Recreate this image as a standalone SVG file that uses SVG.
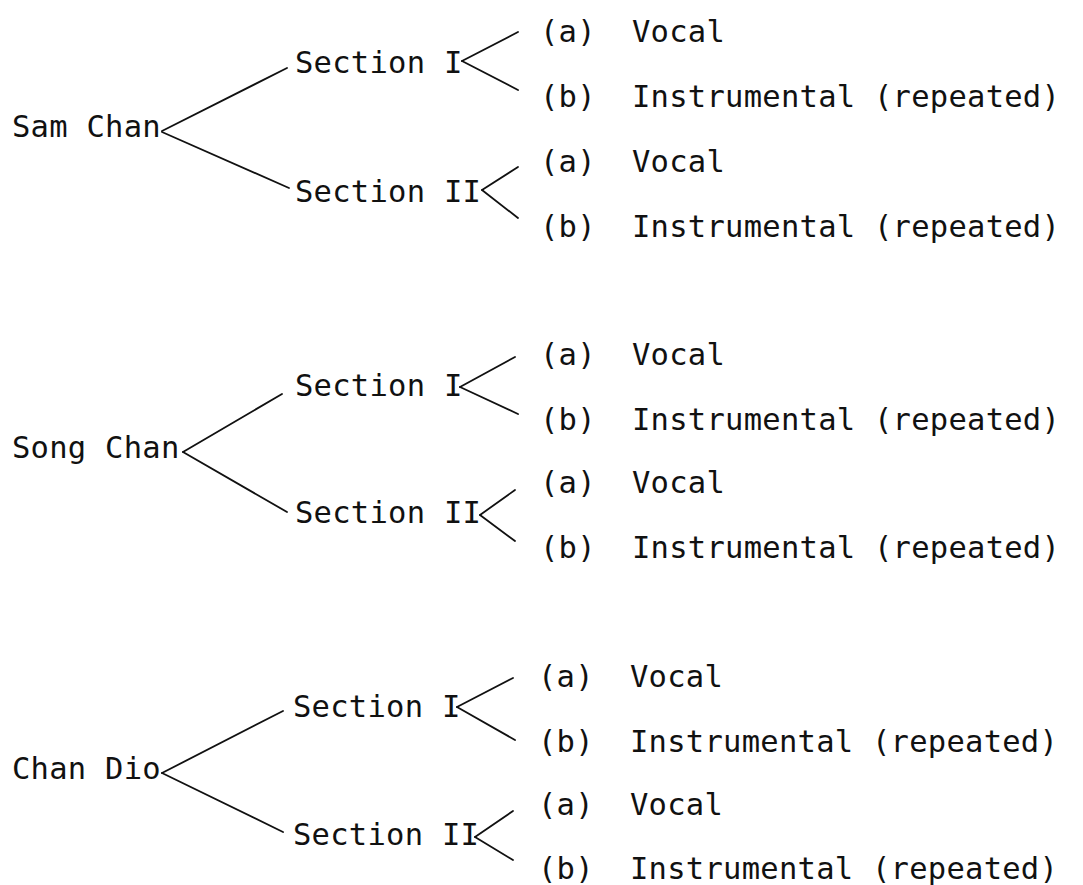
<svg xmlns="http://www.w3.org/2000/svg" width="1083" height="885" viewBox="0 0 1083 885">
<style>
text{font-family:"DejaVu Sans Mono","Liberation Mono",monospace;font-size:30.5px;letter-spacing:0.25px;fill:#111}
.c line{stroke:#111;stroke-width:1.8;stroke-linecap:round}
</style>
<rect width="1083" height="885" fill="#fff"/>
<g class="c" id="connectors">
<line x1="162" y1="131" x2="287" y2="68"/>
<line x1="162" y1="132" x2="289" y2="188"/>
<line x1="462" y1="61" x2="518" y2="32"/>
<line x1="462" y1="61" x2="518" y2="90"/>
<line x1="482" y1="190" x2="518" y2="167"/>
<line x1="482" y1="190" x2="518" y2="218"/>
<line x1="183" y1="452" x2="282" y2="394"/>
<line x1="183" y1="452" x2="287" y2="512"/>
<line x1="460" y1="387" x2="515" y2="357"/>
<line x1="460" y1="387" x2="518" y2="414"/>
<line x1="480" y1="515" x2="515" y2="490"/>
<line x1="480" y1="515" x2="515" y2="541"/>
<line x1="162" y1="773" x2="283" y2="711"/>
<line x1="162" y1="773" x2="283" y2="832"/>
<line x1="457" y1="707" x2="513" y2="678"/>
<line x1="457" y1="707" x2="515" y2="740"/>
<line x1="475" y1="837" x2="513" y2="811"/>
<line x1="475" y1="837" x2="513" y2="860"/>
</g>
<g id="sam-chan"><text x="12" y="137">Sam Chan</text></g>
<g id="sam-s1"><text x="295" y="73">Section I</text></g>
<g id="sam-s2"><text x="295" y="202">Section II</text></g>
<g id="sam-s1a"><text x="540" y="42">(a)</text><text x="632" y="42">Vocal</text></g>
<g id="sam-s1b"><text x="540" y="107">(b)</text><text x="632" y="107">Instrumental (repeated)</text></g>
<g id="sam-s2a"><text x="540" y="172">(a)</text><text x="632" y="172">Vocal</text></g>
<g id="sam-s2b"><text x="540" y="237">(b)</text><text x="632" y="237">Instrumental (repeated)</text></g>

<g id="song-chan"><text x="12" y="458">Song Chan</text></g>
<g id="song-s1"><text x="295" y="396">Section I</text></g>
<g id="song-s2"><text x="295" y="523">Section II</text></g>
<g id="song-s1a"><text x="540" y="365">(a)</text><text x="632" y="365">Vocal</text></g>
<g id="song-s1b"><text x="540" y="430">(b)</text><text x="632" y="430">Instrumental (repeated)</text></g>
<g id="song-s2a"><text x="540" y="493">(a)</text><text x="632" y="493">Vocal</text></g>
<g id="song-s2b"><text x="540" y="558">(b)</text><text x="632" y="558">Instrumental (repeated)</text></g>

<g id="chan-dio"><text x="12" y="779">Chan Dio</text></g>
<g id="dio-s1"><text x="293" y="717">Section I</text></g>
<g id="dio-s2"><text x="293" y="845">Section II</text></g>
<g id="dio-s1a"><text x="538" y="687">(a)</text><text x="630" y="687">Vocal</text></g>
<g id="dio-s1b"><text x="538" y="752">(b)</text><text x="630" y="752">Instrumental (repeated)</text></g>
<g id="dio-s2a"><text x="538" y="815">(a)</text><text x="630" y="815">Vocal</text></g>
<g id="dio-s2b"><text x="538" y="879">(b)</text><text x="630" y="879">Instrumental (repeated)</text></g>
</svg>
